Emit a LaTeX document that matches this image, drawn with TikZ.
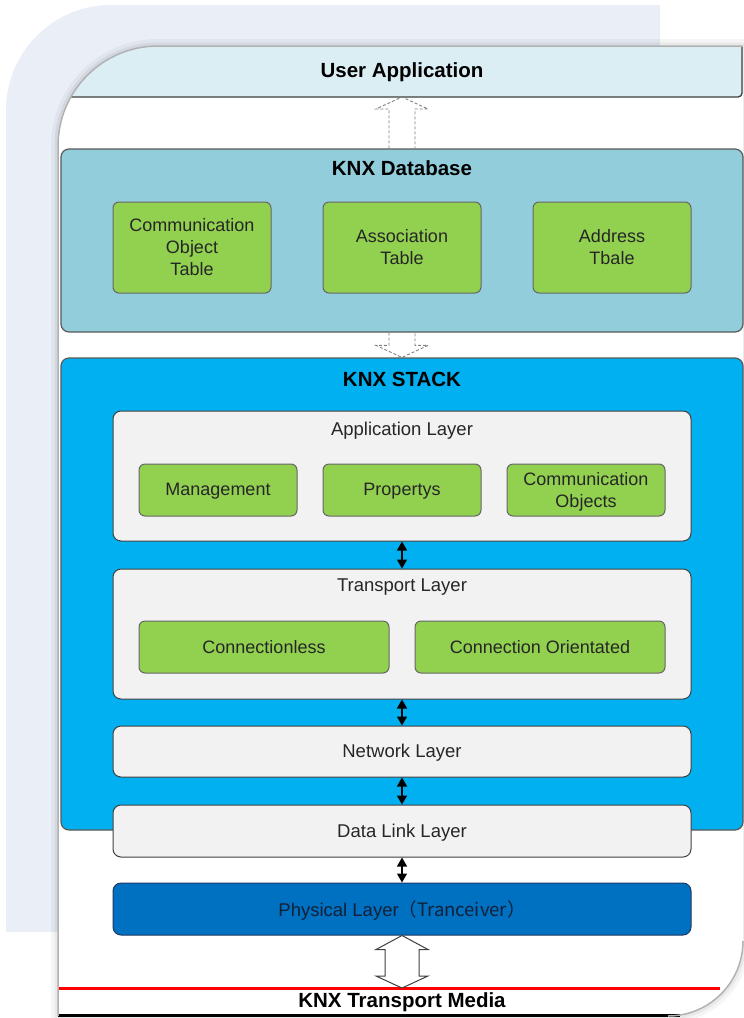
\documentclass[tikz,border=0pt]{standalone}
\usepackage{fontspec}
\setmainfont{Liberation Sans}
\newfontfamily\cjk{Noto Sans CJK SC}
\usetikzlibrary{calc,arrows.meta}

\definecolor{bgshade}{HTML}{E9EEF7}
\definecolor{userapp}{HTML}{DAEEF3}
\definecolor{dbblue}{HTML}{92CDDC}
\definecolor{stackblue}{HTML}{00B0F0}
\definecolor{layergray}{HTML}{F2F2F2}
\definecolor{objgreen}{HTML}{92D050}
\definecolor{phyblue}{HTML}{0070C0}
\definecolor{phyborder}{HTML}{1F3864}
\definecolor{phytext}{HTML}{132038}

\tikzset{
  title/.style={font=\bfseries\fontsize{20.5}{24}\selectfont, text=black, inner sep=0pt, text depth=1pt},
  block/.style={draw=black!65, line width=1.2pt, rounded corners=8pt, inner sep=0pt},
  layer/.style={draw=black!75, fill=layergray, line width=1pt, rounded corners=8pt,
    minimum width=578pt, inner sep=0pt, text=black!85, text depth=1pt,
    font=\fontsize{18.5}{22}\selectfont},
  layertitle/.style={text=black!85, font=\fontsize{18.5}{22}\selectfont, inner sep=0pt, text depth=1pt},
  obj/.style={draw=black!60, fill=objgreen, line width=1pt, rounded corners=6pt,
    minimum width=158pt, inner sep=0pt, align=center, text=black!85, text depth=1pt,
    font=\fontsize{18}{22}\selectfont},
  link/.style={{Triangle[width=10pt,length=9pt]}-{Triangle[width=10pt,length=9pt]},
    line width=1.3pt, black},
  hollow/.style={draw=black!50, line width=0.9pt, dash pattern=on 3pt off 2pt},
  bigarrow/.style={draw=black!75, fill=white, line width=1pt},
}

\begin{document}
\begin{tikzpicture}[x=1pt,y=-1pt]
  \useasboundingbox (0,0) rectangle (744,1018);

  % backdrop
  \fill[bgshade] (6,932) -- (6,110) .. controls (6,52) and (53,5) .. (111,5) -- (660,5) -- (660,932) -- cycle;

  % frame
  \draw[black, opacity=0.04, line width=14pt] (58,1016) -- (58,146) .. controls (58,90.8) and (102.8,46) .. (158,46) -- (743,46) -- (743,941) .. controls (743,982.4) and (709.4,1016) .. (668,1016) -- cycle;
  \draw[black, opacity=0.05, line width=7pt] (58,1016) -- (58,146) .. controls (58,90.8) and (102.8,46) .. (158,46) -- (743,46) -- (743,941) .. controls (743,982.4) and (709.4,1016) .. (668,1016) -- cycle;
  \fill[white] (58,1016) -- (58,146) .. controls (58,90.8) and (102.8,46) .. (158,46) -- (743,46) -- (743,941) .. controls (743,982.4) and (709.4,1016) .. (668,1016) -- cycle;

  \begin{scope}
    \clip (58,1016) -- (58,146) .. controls (58,90.8) and (102.8,46) .. (158,46) -- (743,46) -- (743,941) .. controls (743,982.4) and (709.4,1016) .. (668,1016) -- cycle;
    \fill[userapp, rounded corners=4pt] (40,46) rectangle (743,97);
    \draw[black!75, line width=1.3pt, rounded corners=4pt] (40,97) -- (742,97) -- (742,40);
    \draw[red, line width=3pt] (40,988) -- (720,988);
  \end{scope}
  \draw[black, line width=3pt] (58,1015) -- (680,1015);

  \draw[black!30, line width=1.5pt] (58,1016) -- (58,146) .. controls (58,90.8) and (102.8,46) .. (158,46) -- (743,46);
  \draw[black!30, line width=1.5pt] (743,941) .. controls (743,982.4) and (709.4,1016) .. (668,1016);

  % user application
  \node[title] (uatitle) at (402,71) {User Application};
  \coordinate (uabottom) at (402,97);

  % knx database
  \node[block, fill=dbblue, minimum width=682pt, minimum height=183pt] (db) at (402,240.5) {};
  \node[title] (dbtitle) at (402,169) {KNX Database};
  \node[obj, minimum height=91pt] (cot) at (192,247.5) {Communication\\Object\\Table};
  \node[obj, minimum height=91pt] (assoc) at (402,247.5) {Association\\Table};
  \node[obj, minimum height=91pt] (addr) at (612,247.5) {Address\\Tbale};

  % knx stack
  \node[block, fill=stackblue, minimum width=682pt, minimum height=472pt] (stack) at (402,594) {};
  \node[title] (stacktitle) at (402,380) {KNX STACK};

  \node[layer, minimum height=130pt] (app) at (402,476) {};
  \node[layertitle] (apptitle) at (402,429) {Application Layer};
  \node[obj, minimum height=52pt] (mgmt) at (218,490) {Management};
  \node[obj, minimum height=52pt] (prop) at (402,490) {Propertys};
  \node[obj, minimum height=52pt] (comobj) at (586,490) {Communication\\Objects};

  \node[layer, minimum height=130pt] (trans) at (402,634) {};
  \node[layertitle] (transtitle) at (402,586) {Transport Layer};
  \node[obj, minimum height=52pt, minimum width=250pt] (connless) at (264,647) {Connectionless};
  \node[obj, minimum height=52pt, minimum width=250pt] (connor) at (540,647) {Connection Orientated};

  \node[layer, minimum height=51pt] (net) at (402,751.5) {Network Layer};
  \node[layer, minimum height=52pt] (dll) at (402,831) {Data Link Layer};
  \node[layer, fill=phyblue, draw=phyborder, text=phytext, minimum height=52pt] (phy) at (402,909) {Physical Layer\cjk{（}Tranceiver\cjk{）}};

  % transport media
  \coordinate (media) at (402,988);
  \node[title] (mediatitle) at (402,1001) {KNX Transport Media};

  % connectors
  \draw[link] (app.south) -- (trans.north);
  \draw[link] (trans.south) -- (net.north);
  \draw[link] (net.south) -- (dll.north);
  \draw[link] (dll.south) -- (phy.north);

  \draw[hollow] ($(db.north)+(-13,0)$) -- ($(uabottom)+(-13,12)$) -- ($(uabottom)+(-26,12)$) -- (uabottom) -- ($(uabottom)+(26,12)$) -- ($(uabottom)+(13,12)$) -- ($(db.north)+(13,0)$);
  \draw[hollow] ($(db.south)+(-13,0)$) -- ($(stack.north)+(-13,-12)$) -- ($(stack.north)+(-26,-12)$) -- (stack.north) -- ($(stack.north)+(26,-12)$) -- ($(stack.north)+(13,-12)$) -- ($(db.south)+(13,0)$);

  \draw[bigarrow] (phy.south) -- ($(phy.south)+(26,14)$) -- ($(phy.south)+(17,14)$) -- ($(media)+(17,-12)$) -- ($(media)+(26,-12)$) -- (media) -- ($(media)+(-26,-12)$) -- ($(media)+(-17,-12)$) -- ($(phy.south)+(-17,14)$) -- ($(phy.south)+(-26,14)$) -- cycle;

\end{tikzpicture}
\end{document}
